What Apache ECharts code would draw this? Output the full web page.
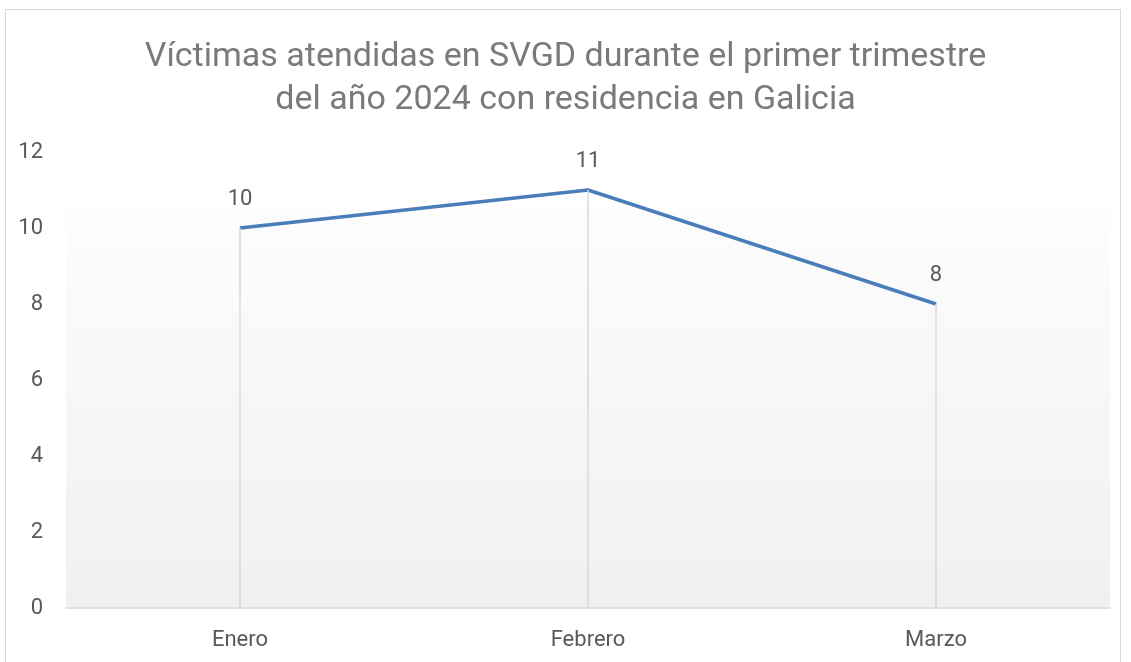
<!DOCTYPE html>
<html>
<head>
<meta charset="utf-8">
<script src="https://cdn.jsdelivr.net/npm/echarts@6/dist/echarts.min.js"></script>
<style>
  html, body { margin: 0; padding: 0; background: #fff; }
  #frame { position: absolute; left: 5px; top: 9px; width: 1116px; height: 660px; border: 1px solid #d9d9d9; box-sizing: border-box; }
  #main { position: absolute; left: 0; top: 0; width: 1131px; height: 662px; }
</style>
</head>
<body>
<div id="frame"></div>
<div id="main"></div>
<script>
var titleLines = ['Víctimas atendidas en SVGD durante el primer trimestre', 'del año 2024 con residencia en Galicia'];
var months = ['Enero', 'Febrero', 'Marzo'];
var victims = [10, 11, 8];
var yTicks = [0, 2, 4, 6, 8, 10, 12];

var font = 'Roboto';
var chart = echarts.init(document.getElementById('main'));

// lineas de caida desde cada punto hasta el eje
var dropLines = victims.map(function(v, i) {
    return [{ coord: [i, 0] }, { coord: [i, v] }];
});

chart.setOption({
    animation: false,
    title: {
        text: titleLines.join('\n'),
        left: 'center',
        top: 31,
        padding: [5, 0, 5, 12],
        textStyle: {
            fontFamily: font,
            fontWeight: 'normal',
            fontSize: 34,
            lineHeight: 43,
            color: '#7a7a7a'
        }
    },
    grid: {
        left: 66,
        right: 21,
        top: 152,
        bottom: 54,
        show: true,
        borderWidth: 0,
        backgroundColor: new echarts.graphic.LinearGradient(0, 0, 0, 1, [
            { offset: 0, color: '#ffffff' },
            { offset: 0.127, color: '#ffffff' },
            { offset: 0.128, color: '#fdfdfd' },
            { offset: 1, color: '#f0f0f0' }
        ])
    },
    xAxis: {
        type: 'category',
        data: months,
        boundaryGap: true,
        axisLine: { lineStyle: { color: '#d9d9d9', width: 1.5 } },
        axisTick: { show: false },
        axisLabel: { fontFamily: font, fontSize: 22, color: '#595959', margin: 21 }
    },
    yAxis: {
        type: 'value',
        min: yTicks[0],
        max: yTicks[yTicks.length - 1],
        interval: 2,
        splitLine: { show: false },
        axisLine: { show: false },
        axisTick: { show: false },
        axisLabel: { fontFamily: font, fontSize: 22, color: '#595959', margin: 23, padding: [5, 0, 0, 0] }
    },
    series: [{
        type: 'line',
        data: victims,
        symbol: 'circle',
        symbolSize: 1,
        showSymbol: true,
        itemStyle: { color: '#4a7ebb' },
        lineStyle: { color: '#4a7ebb', width: 3.5 },
        label: {
            show: true,
            position: 'top',
            distance: 17,
            fontFamily: font,
            fontSize: 22,
            color: '#595959'
        },
        markLine: {
            silent: true,
            symbol: 'none',
            label: { show: false },
            lineStyle: { color: '#d9d9d9', width: 1.5, type: 'solid' },
            data: dropLines
        },
        z: 3
    }]
});
</script>
</body>
</html>
